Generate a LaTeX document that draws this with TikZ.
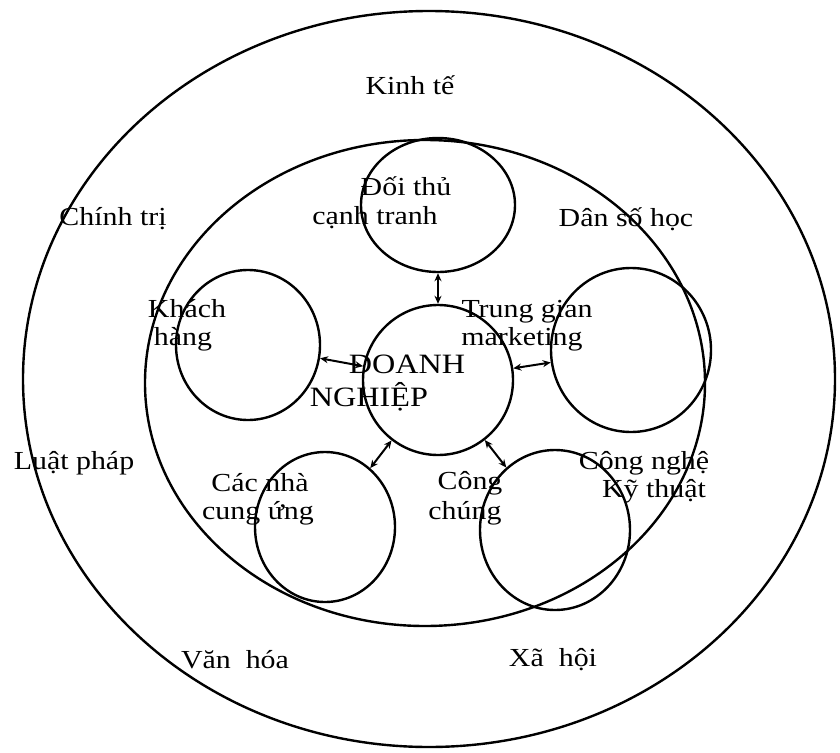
\documentclass[tikz,border=0pt]{standalone}
\usepackage{fontspec}
\setmainfont[FakeStretch=1.15]{Liberation Serif}
\usetikzlibrary{shapes.geometric,arrows.meta}
\begin{document}
\begin{tikzpicture}[x=1pt,y=-1pt,
  ring/.style={draw, ellipse, inner sep=0pt, line width=2.4pt},
  lab/.style={inner sep=0pt, font=\fontsize{26}{29}\selectfont},
  big/.style={inner sep=0pt, font=\fontsize{28}{31}\selectfont},
  link/.style={{Stealth[length=8pt,width=7pt]}-{Stealth[length=8pt,width=7pt]}, line width=2pt}]
\useasboundingbox (0,0) rectangle (840,752);
% rings
\node[ring, minimum width=812pt, minimum height=736pt] (outer) at (429,379) {};
\node[ring, minimum width=560pt, minimum height=486pt] (inner) at (425,383) {};
% small circles
\node[ring, minimum width=154pt, minimum height=134pt] (top) at (438,205) {};
\node[ring, minimum width=150pt, minimum height=150pt] (cen) at (438,380) {};
\node[ring, minimum width=144pt, minimum height=150pt] (lft) at (248,345) {};
\node[ring, minimum width=160pt, minimum height=164pt] (rgt) at (631,350) {};
\node[ring, minimum width=140pt, minimum height=150pt] (bl) at (325,527) {};
\node[ring, minimum width=150pt, minimum height=160pt] (br) at (555,530) {};
% connectors
\draw[link] (top) -- (cen);
\draw[link] (lft) -- (cen);
\draw[link] (rgt) -- (cen);
\draw[link] (bl) -- (cen);
\draw[link] (br) -- (cen);
% outer labels
\node[lab] (kt) at (410,85) {Kinh tế};
\node[lab] (ct) at (113,219) {Chính trị};
\node[lab] (ds) at (626,219) {Dân số học};
\node[lab] (lp) at (74,463) {Luật pháp};
\node[lab] (vh) at (235,660) {Văn\ \ hóa};
\node[lab] (xh) at (553,660) {Xã\ \ hội};
% inner labels
\node[lab] (dt1) at (406,186) {Đối thủ};
\node[lab] (dt2) at (375,218) {cạnh tranh};
\node[lab] (kh1) at (187,309) {Khách};
\node[lab] (kh2) at (183,339) {hàng};
\node[lab] (tg1) at (527,312) {Trung gian};
\node[lab] (tg2) at (522,339) {marketing};
\node[big] (dn1) at (407,364) {DOANH};
\node[big] (dn2) at (369,397) {NGHIỆP};
\node[lab] (cu1) at (260,483) {Các nhà};
\node[lab] (cu2) at (258,513) {cung ứng};
\node[lab] (cc1) at (470,483) {Công};
\node[lab] (cc2) at (465,513) {chúng};
\node[lab] (cn1) at (644,463) {Công nghệ};
\node[lab] (cn2) at (654,491) {Kỹ thuật};
\end{tikzpicture}
\end{document}
